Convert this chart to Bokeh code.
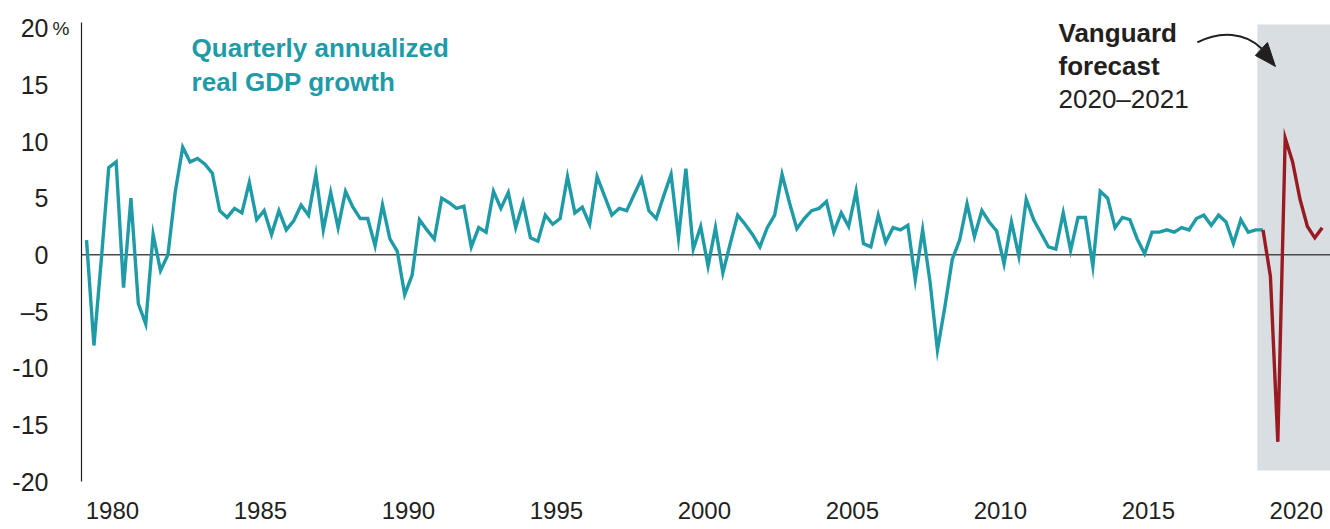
from bokeh.plotting import figure
from bokeh.models import (Range1d, FixedTicker, CustomJSTickFormatter, Label,
                          BoxAnnotation, Span, ColumnDataSource)
from bokeh.embed import file_html
from bokeh.resources import INLINE

# ---------------- data ----------------
FIRST_YEAR = 1980  # first quarter of the history series = 1980 Q1

history_growth = [
    1.3, -8.0, -0.4, 7.7,    # 1980
    8.2, -2.9, 5.0, -4.3,    # 1981
    -6.1, 1.8, -1.4, 0.0,    # 1982
    5.6, 9.5, 8.2, 8.5,      # 1983
    8.0, 7.2, 3.9, 3.3,      # 1984
    4.1, 3.7, 6.4, 3.1,      # 1985
    3.9, 1.8, 3.9, 2.2,      # 1986
    3.0, 4.4, 3.5, 7.1,      # 1987
    2.2, 5.5, 2.4, 5.6,      # 1988
    4.2, 3.2, 3.2, 0.8,      # 1989
    4.4, 1.4, 0.3, -3.5,     # 1990
    -1.8, 3.1, 2.2, 1.4,     # 1991
    5.0, 4.6, 4.1, 4.3,      # 1992
    0.7, 2.4, 2.0, 5.6,      # 1993
    4.1, 5.5, 2.4, 4.6,      # 1994
    1.5, 1.2, 3.5, 2.7,      # 1995
    3.2, 6.9, 3.7, 4.2,      # 1996
    2.7, 6.9, 5.2, 3.5,      # 1997
    4.1, 3.9, 5.3, 6.7,      # 1998
    3.9, 3.2, 5.2, 7.1,      # 1999
    1.5, 7.6, 0.5, 2.5,      # 2000
    -1.0, 2.4, -1.6, 1.0,    # 2001
    3.5, 2.7, 1.8, 0.7,      # 2002
    2.4, 3.5, 7.1, 4.6,      # 2003
    2.3, 3.2, 3.9, 4.1,      # 2004
    4.7, 2.0, 3.7, 2.5,      # 2005
    5.6, 1.0, 0.7, 3.5,      # 2006
    1.1, 2.4, 2.2, 2.6,      # 2007
    -2.2, 2.2, -2.4, -8.4,   # 2008
    -4.6, -0.4, 1.3, 4.5,    # 2009
    1.6, 3.9, 2.9, 2.1,      # 2010
    -0.8, 2.9, -0.1, 4.9,    # 2011
    3.1, 1.9, 0.7, 0.5,      # 2012
    3.7, 0.4, 3.3, 3.3,      # 2013
    -1.0, 5.6, 5.0, 2.4,     # 2014
    3.3, 3.1, 1.4, 0.1,      # 2015
    2.0, 2.0, 2.2, 2.0,      # 2016
    2.4, 2.2, 3.2, 3.5,      # 2017
    2.6, 3.5, 2.9, 1.0,      # 2018
    3.1, 2.0, 2.2, 2.2,      # 2019
]

# Vanguard forecast 2020 Q1 - 2021 Q4
forecast_growth = [-1.9, -16.5, 10.3, 8.2, 4.9, 2.5, 1.5, 2.4]

year_labels = [1980, 1985, 1990, 1995, 2000, 2005, 2010, 2015, 2020]
y_ticks = [-20, -15, -10, -5, 0, 5, 10, 15, 20]

# ---------------- derived x positions ----------------
hist_x = [FIRST_YEAR + i / 4 for i in range(len(history_growth))]
last_x = hist_x[-1]
fc_x = [last_x] + [last_x + (i + 1) / 4 for i in range(len(forecast_growth))]
fc_y = [history_growth[-1]] + forecast_growth

hist_src = ColumnDataSource(dict(x=hist_x, y=history_growth))
fc_src = ColumnDataSource(dict(x=fc_x, y=fc_y))

TEAL = "#1f9ba8"
RED = "#9a1a22"
BAND = "#d9dee2"
INK = "#231f20"
FONT = "Liberation Sans"

p = figure(width=1330, height=529,
           x_range=Range1d(1979.83, 2022.03), y_range=Range1d(-20.0, 20.5),
           output_backend="svg", toolbar_location=None,
           min_border_left=81, min_border_right=0,
           min_border_top=22, min_border_bottom=48)
p.grid.visible = False
p.outline_line_color = None
p.background_fill_color = "white"
p.border_fill_color = "white"

# forecast band and zero line
p.add_layout(BoxAnnotation(left=2019.56, bottom=-19.04, top=20.33,
                           fill_color=BAND, fill_alpha=1.0, line_color=None,
                           level="underlay"))
p.add_layout(Span(location=0, dimension="width", line_color="#4a4a4a",
                  line_width=1.5, level="underlay"))

# series
p.line("x", "y", source=hist_src, line_color=TEAL, line_width=3.4,
       line_join="miter")
p.line("x", "y", source=fc_src, line_color=RED, line_width=3.4,
       line_join="miter")

# y axis
ya = p.yaxis[0]
ya.ticker = FixedTicker(ticks=y_ticks)
ya.formatter = CustomJSTickFormatter(
    code='return tick == -5 ? "\u20135" : String(tick);')
ya.axis_line_color = INK
ya.axis_line_width = 1.2
ya.major_tick_out = 0
ya.major_tick_in = 0
ya.minor_tick_out = 0
ya.minor_tick_in = 0
ya.major_label_standoff = 33
ya.major_label_text_font = FONT
ya.major_label_text_font_size = "25px"
ya.major_label_text_color = INK

# x axis
xa = p.xaxis[0]
xa.ticker = FixedTicker(ticks=[y + 0.875 for y in year_labels])
xa.formatter = CustomJSTickFormatter(code="return String(Math.floor(tick));")
xa.axis_line_color = None
xa.major_tick_out = 0
xa.major_tick_in = 0
xa.minor_tick_out = 0
xa.minor_tick_in = 0
xa.major_label_standoff = 20
xa.major_label_text_font = FONT
xa.major_label_text_font_size = "24px"
xa.major_label_text_color = INK

# percent sign next to the top tick label (lives in the top border panel)
p.add_layout(Label(x=-29, y=-5.5, x_units="screen", y_units="screen",
                   text="%", text_align="left", text_baseline="middle",
                   text_font=FONT, text_font_size="19px", text_color=INK),
             "above")

# series title
p.add_layout(Label(x=1983.55, y=18.21, text="Quarterly annualized",
                   text_font=FONT, text_font_style="bold",
                   text_font_size="26px", text_color=TEAL,
                   text_baseline="alphabetic"))
p.add_layout(Label(x=1983.55, y=15.29, text="real GDP growth",
                   text_font=FONT, text_font_style="bold",
                   text_font_size="26px", text_color=TEAL,
                   text_baseline="alphabetic"))

# forecast annotation
p.add_layout(Label(x=2012.84, y=19.53, text="Vanguard",
                   text_font=FONT, text_font_style="bold",
                   text_font_size="26px", text_color=INK,
                   text_baseline="alphabetic"))
p.add_layout(Label(x=2012.84, y=16.62, text="forecast",
                   text_font=FONT, text_font_style="bold",
                   text_font_size="26px", text_color=INK,
                   text_baseline="alphabetic"))
p.add_layout(Label(x=2012.84, y=13.71, text="2020\u20132021",
                   text_font=FONT, text_font_size="26px", text_color=INK,
                   text_baseline="alphabetic"))

# curved arrow pointing into the forecast band
p.bezier(x0=[2017.53], y0=[18.74], x1=[2019.70], y1=[18.21],
         cx0=[2018.31], cy0=[19.80], cx1=[2019.155], cy1=[19.62],
         line_color=INK, line_width=2)
p.patch(x=[2020.17, 2019.90, 2019.49], y=[16.62, 18.74, 17.59],
        fill_color=INK, line_color=INK, line_width=1)

open("out.html", "w").write(file_html(p, INLINE))
